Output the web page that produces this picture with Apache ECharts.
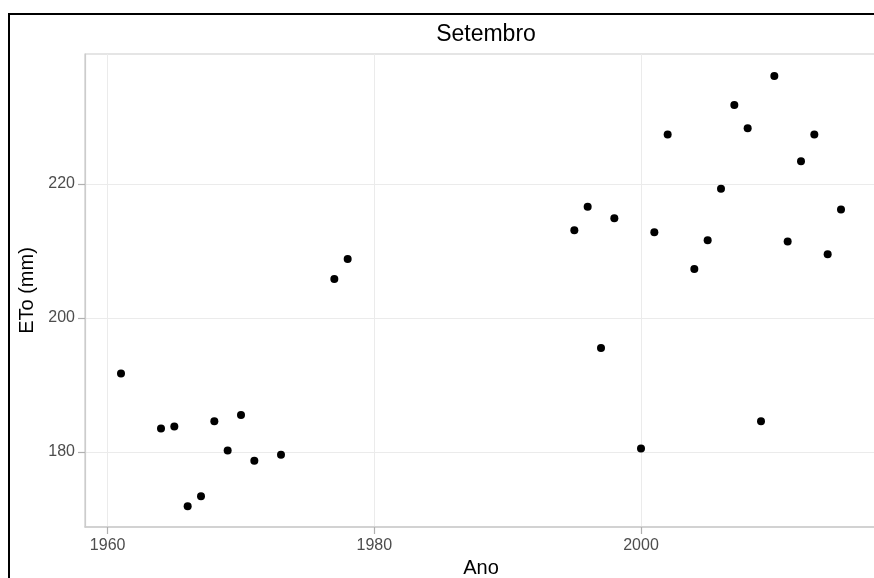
<!DOCTYPE html>
<html>
<head>
<meta charset="utf-8">
<script src="https://cdn.jsdelivr.net/npm/echarts@6/dist/echarts.min.js"></script>
<style>
  html, body { margin: 0; padding: 0; background: #fff; }
  #chart { width: 874px; height: 578px; }
</style>
</head>
<body>
<div id="chart"></div>
<script>
// Setembro: ETo (mm) per year
var years = [1961, 1964, 1965, 1966, 1967, 1968, 1969, 1970, 1971, 1973,
             1977, 1978, 1995, 1996, 1997, 1998, 2000, 2001, 2002, 2004,
             2005, 2006, 2007, 2008, 2009, 2010, 2011, 2012, 2013, 2014, 2015];
var eto = [191.7, 183.5, 183.8, 171.9, 173.4, 184.6, 180.2, 185.5, 178.7, 179.6,
           205.8, 208.8, 213.1, 216.6, 195.5, 214.9, 180.5, 212.8, 227.4, 207.3,
           211.6, 219.3, 231.8, 228.3, 184.6, 236.1, 211.4, 223.4, 227.4, 209.5, 216.2];
var xTicks = [1960, 1980, 2000];
var yTicks = [180, 200, 220];

var font = "'Liberation Sans', Arial, sans-serif";
var borderGrey = '#cccccc';
var gridGrey = '#ebebeb';

var chart = echarts.init(document.getElementById('chart'), null, {renderer: 'canvas'});
chart.setOption({
    animation: false,
    backgroundColor: '#fff',
    title: {
        text: 'Setembro',
        left: 481,
        top: 18,
        textAlign: 'center',
        textStyle: {fontFamily: font, fontSize: 23, fontWeight: 'normal', color: '#000'}
    },
    graphic: [{
        type: 'rect',
        shape: {x: 9, y: 14, width: 900, height: 700},
        style: {fill: 'none', stroke: '#000', lineWidth: 2},
        silent: true
    }],
    grid: {
        left: 85, top: 54, right: -3, bottom: 51,
        outerBoundsMode: 'none',
        containLabel: false,
        show: true, borderColor: borderGrey, borderWidth: 1.2
    },
    xAxis: {
        type: 'value',
        min: 1958.3, max: 2017.7,
        name: 'Ano', nameLocation: 'middle', nameGap: 31,
        nameTextStyle: {fontFamily: font, fontSize: 20, color: '#000'},
        axisLine: {show: true, lineStyle: {color: borderGrey, width: 1.6}},
        axisTick: {show: true, inside: false, length: 7, customValues: xTicks, lineStyle: {color: '#b0b0b0', width: 1.2}},
        axisLabel: {
            margin: 11, customValues: xTicks, fontFamily: font, fontSize: 16, color: '#4d4d4d',
            formatter: function (v) { return String(v); }
        },
        splitLine: {show: true, lineStyle: {color: gridGrey, width: 1}}
    },
    yAxis: {
        type: 'value',
        min: 168.8, max: 239.4,
        name: 'ETo (mm)', nameLocation: 'middle', nameGap: 48, nameRotate: 90,
        nameTextStyle: {fontFamily: font, fontSize: 20, color: '#000'},
        axisLine: {show: true, lineStyle: {color: borderGrey, width: 1.2}},
        axisTick: {show: true, inside: false, length: 7, customValues: yTicks, lineStyle: {color: '#b0b0b0', width: 1.2}},
        axisLabel: {margin: 10, customValues: yTicks, fontFamily: font, fontSize: 16, color: '#4d4d4d'},
        splitLine: {show: true, lineStyle: {color: gridGrey, width: 1}}
    },
    series: [{
        type: 'scatter',
        symbol: 'circle',
        symbolSize: 8,
        itemStyle: {color: '#000', opacity: 1},
        data: years.map(function (y, i) { return [y, eto[i]]; })
    }]
});
</script>
</body>
</html>
